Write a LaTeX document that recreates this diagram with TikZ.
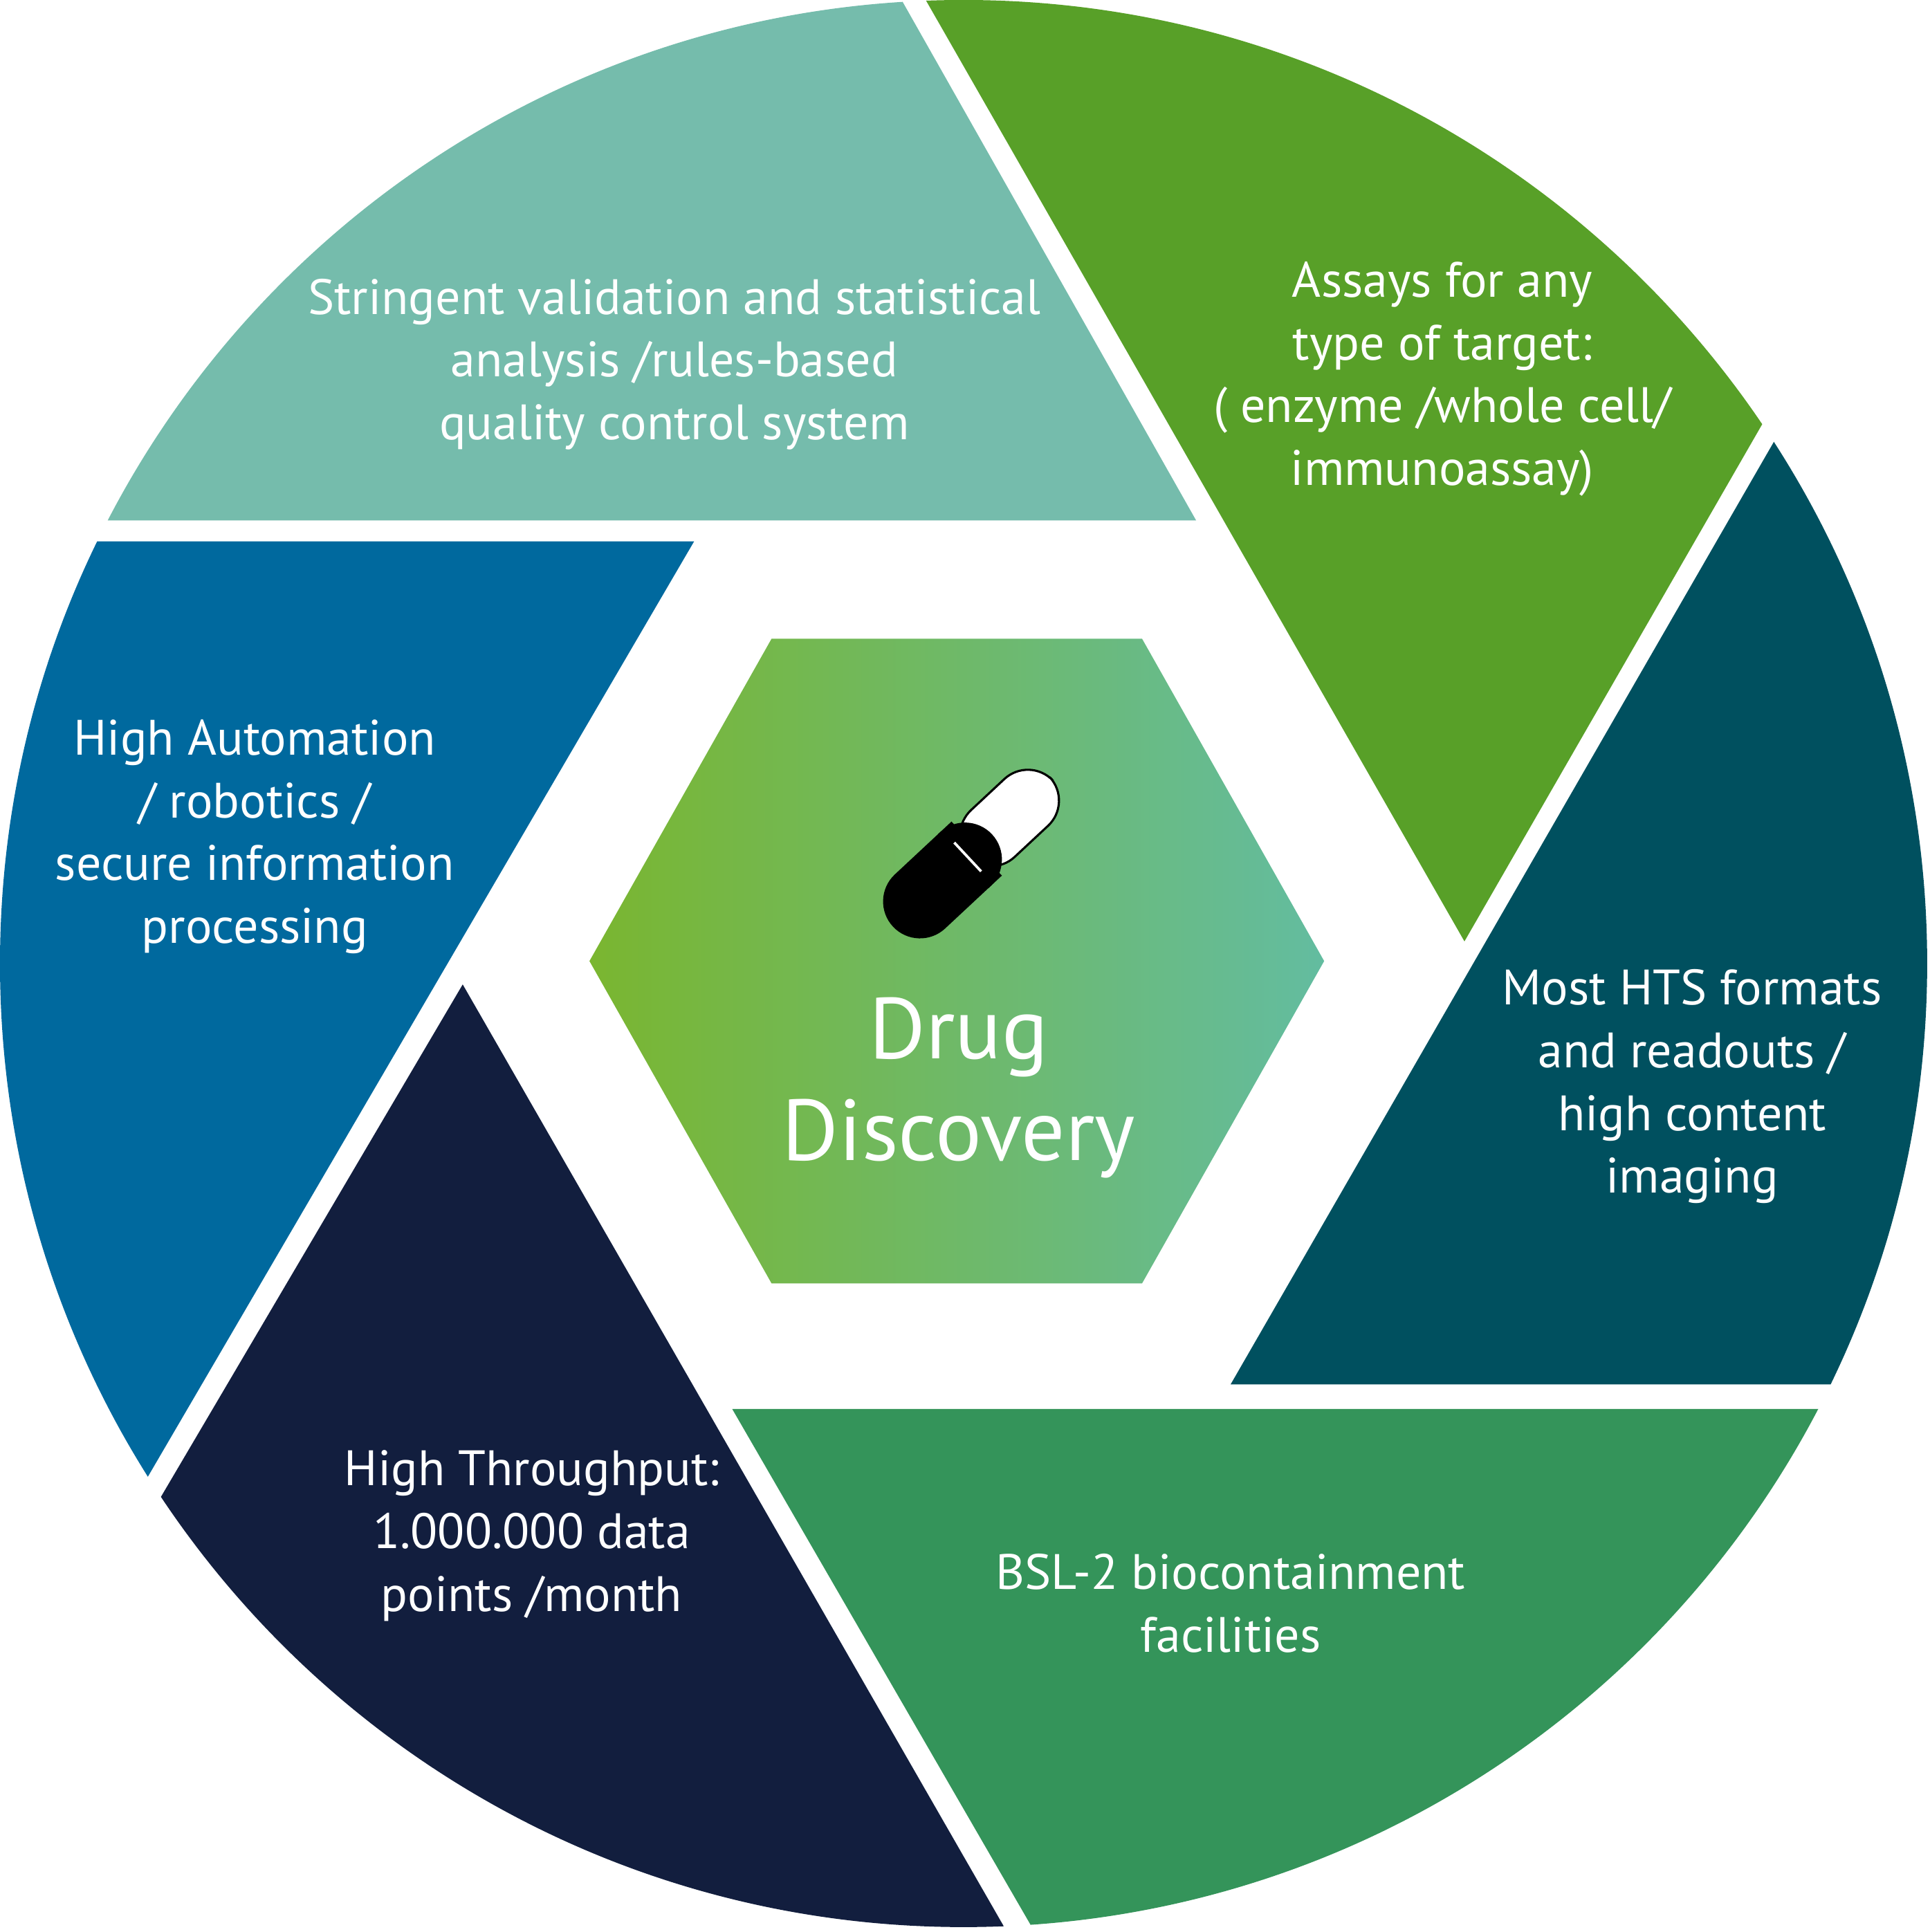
\documentclass[tikz,border=0pt]{standalone}
\usepackage{fontspec}
\setmainfont{PT Sans}
\usetikzlibrary{positioning}
\definecolor{tealtop}{RGB}{117,188,172}
\definecolor{greentop}{RGB}{88,160,40}
\definecolor{darkteal}{RGB}{0,80,95}
\definecolor{greenbot}{RGB}{52,148,90}
\definecolor{navy}{RGB}{18,30,62}
\definecolor{bluel}{RGB}{0,105,158}
\definecolor{hexleft}{RGB}{122,182,48}
\definecolor{hexright}{RGB}{99,188,160}
\tikzset{
        lbl/.style={text=white, align=center, font=\fontsize{11.5}{14.5}\selectfont},
        seg/.style={draw=none}
    }
\begin{document}
\begin{tikzpicture}
    \useasboundingbox (0,0) rectangle (15.68,15.70);

    % outer ring segments, clipped to the circle
    \begin{scope}
        \clip (7.83,7.87) circle (7.83);
        \fill[seg, tealtop] (9.72,11.47) -- (6.76,16.70) -- (-1,16.70) -- (-1,11.47) -- cycle;
        \fill[seg, greentop] (6.95,16.70) -- (11.90,8.05) -- (16.88,16.70) -- cycle;
        \fill[seg, darkteal] (17.06,16.70) -- (10.00,4.45) -- (17,4.45) -- cycle;
        \fill[seg, greenbot] (5.95,4.25) -- (17,4.25) -- (17,-1.30) -- (9.16,-1.30) -- cycle;
        \fill[seg, navy] (3.76,7.70) -- (8.93,-1.30) -- (-1.54,-1.30) -- cycle;
        \fill[seg, bluel] (5.64,11.30) -- (-1,-0.07) -- (-1,11.30) -- cycle;
    \end{scope}

    % centre hexagon
    \shade[left color=hexleft, right color=hexright]
        (6.27,10.51) -- (9.28,10.51) -- (10.76,7.89) -- (9.28,5.27) -- (6.27,5.27) -- (4.79,7.89) -- cycle;

    % pill icon
    \begin{scope}[shift={(7.90,8.77)}, rotate=43]
        \draw[black, fill=white, line width=0.5pt, rounded corners=0.28cm] (-0.05,-0.26) rectangle (0.88,0.26);
        \fill[black, rounded corners=0.3cm] (-0.88,-0.3) rectangle (0.22,0.3);
        \fill[black] (-0.1,-0.3) rectangle (0.05,0.3);
        \draw[white, line width=0.6pt] (-0.05,-0.16) -- (-0.05,0.16);
    \end{scope}

    \node[text=white, align=center, font=\fontsize{20}{23.5}\selectfont] (drug) at (7.79,6.86) {Drug\\Discovery};

    % segment labels
    \node[lbl] (valid) at (5.48,12.74) {Stringent validation and statistical\\analysis /rules-based\\quality control system};
    \node[lbl] (assay) at (11.72,12.62) {Assays for any\\type of target:\\( enzyme /whole cell/\\immunoassay)};
    \node[lbl] (auto) at (2.07,8.90) {High Automation\\/ robotics /\\secure information\\processing};
    \node[lbl] (hts) at (13.75,6.87) {Most HTS formats\\and readouts /\\high content\\imaging};
    \node[lbl] (thru) at (4.32,3.22) {High Throughput:\\1.000.000 data\\points /month};
    \node[lbl] (bsl) at (10.00,2.67) {BSL-2 biocontainment\\facilities};

\end{tikzpicture}
\end{document}
